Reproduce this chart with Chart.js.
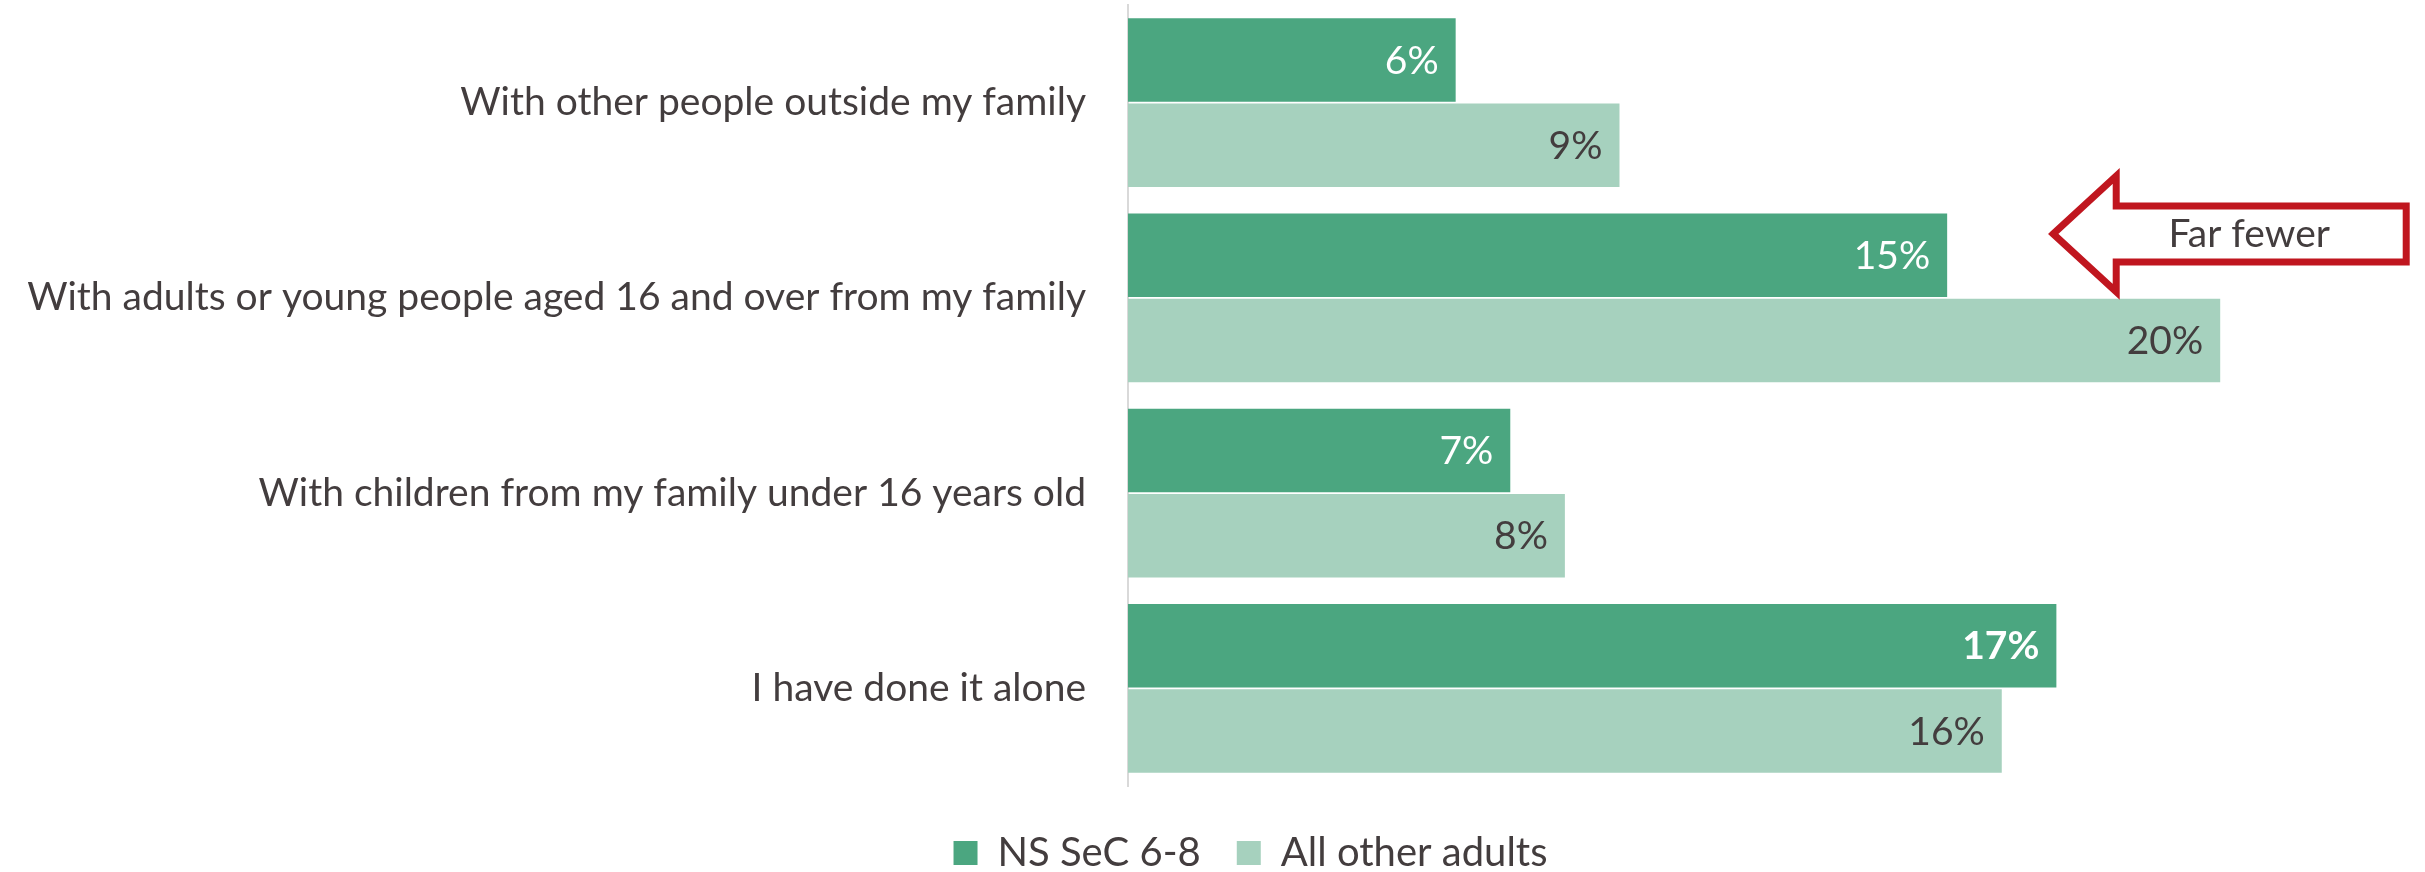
<!DOCTYPE html>
<html>
<head>
<meta charset="utf-8">
<script src="https://cdn.jsdelivr.net/npm/chart.js@4/dist/chart.umd.min.js"></script>
<style>
  html, body { margin: 0; padding: 0; background: #ffffff; }
  #wrap { width: 2425px; height: 872px; }
</style>
</head>
<body>
<div id="wrap"><canvas id="chart" width="2425" height="872"></canvas></div>
<script>
// Who people have done the activity with, by group (%)
const categories = [
  'With other people outside my family',
  'With adults or young people aged 16 and over from my family',
  'With children from my family under 16 years old',
  'I have done it alone'
];
const seriesNames = ['NS SeC 6-8', 'All other adults'];
const nsSecValues = [6, 15, 7, 17];
const otherAdultValues = [9, 20, 8, 16];
// Values shown in bold in the NS SeC series
const nsSecBold = [false, false, false, true];
// Callout pointing at one of the categories
const calloutText = 'Far fewer';
const calloutCategory = 1;

const FONT = 'Lato, "Open Sans", sans-serif';
const TEXT = '#433d3e';
const DARK = '#4ba680';
const LIGHT = '#a6d1be';
const RED = '#c0161f';

// Value labels written inside the end of each bar
const valueLabels = {
  id: 'valueLabels',
  afterDatasetsDraw(chart) {
    const ctx = chart.ctx;
    ctx.save();
    ctx.textAlign = 'right';
    ctx.textBaseline = 'middle';
    chart.data.datasets.forEach((ds, di) => {
      const meta = chart.getDatasetMeta(di);
      meta.data.forEach((bar, i) => {
        const bold = di === 0 && nsSecBold[i];
        ctx.font = (bold ? 'bold ' : '') + '39px ' + FONT;
        ctx.fillStyle = di === 0 ? '#ffffff' : TEXT;
        ctx.fillText(ds.data[i] + '%', bar.x - 17, bar.y + 1);
      });
    });
    ctx.restore();
  }
};

// Outlined arrow callout
const calloutArrow = {
  id: 'calloutArrow',
  afterDraw(chart) {
    const ctx = chart.ctx;
    const xs = chart.scales.x, ys = chart.scales.y;
    const cy = ys.getPixelForValue(calloutCategory) - 64;
    const tipX = xs.getPixelForValue(otherAdultValues[calloutCategory]) - 167;
    const headX = tipX + 63;
    const endX = tipX + 353;
    const headHalf = 58, shaftHalf = 28;
    ctx.save();
    ctx.beginPath();
    ctx.moveTo(tipX, cy);
    ctx.lineTo(headX, cy - headHalf);
    ctx.lineTo(headX, cy - shaftHalf);
    ctx.lineTo(endX, cy - shaftHalf);
    ctx.lineTo(endX, cy + shaftHalf);
    ctx.lineTo(headX, cy + shaftHalf);
    ctx.lineTo(headX, cy + headHalf);
    ctx.closePath();
    ctx.fillStyle = '#ffffff';
    ctx.fill();
    ctx.lineWidth = 7;
    ctx.lineJoin = 'miter';
    ctx.strokeStyle = RED;
    ctx.stroke();
    ctx.font = '39px ' + FONT;
    ctx.fillStyle = TEXT;
    ctx.textAlign = 'center';
    ctx.textBaseline = 'middle';
    ctx.fillText(calloutText, tipX + 196, cy + 1);
    ctx.restore();
  }
};

// Move the legend row a little down and to the right of the canvas centre
const legendOffset = {
  id: 'legendOffset',
  afterLayout(chart) {
    const lg = chart.legend;
    if (lg) {
      lg.top += 11;
      lg.bottom += 11;
      lg.left += 38;
      lg.right += 38;
    }
  }
};

new Chart(document.getElementById('chart'), {
  type: 'bar',
  data: {
    labels: categories,
    datasets: [
      { label: seriesNames[0], data: nsSecValues, backgroundColor: DARK, borderWidth: 0 },
      { label: seriesNames[1], data: otherAdultValues, backgroundColor: LIGHT, borderWidth: 0 }
    ]
  },
  options: {
    indexAxis: 'y',
    responsive: false,
    animation: false,
    events: [],
    categoryPercentage: 0.872,
    barPercentage: 0.98,
    layout: { padding: { left: 0, right: 0, top: 5, bottom: 0 } },
    scales: {
      x: {
        display: false,
        min: 0,
        max: 23.75
      },
      y: {
        grid: { display: false, drawTicks: false },
        border: { display: true, color: '#d9d9d9', width: 2 },
        ticks: {
          color: TEXT,
          font: { family: FONT, size: 39 },
          padding: 42
        },
        afterFit(scale) {
          scale.width = 1128;
          scale.paddingTop = 0;
          scale.paddingBottom = 0;
        }
      }
    },
    plugins: {
      tooltip: { enabled: false },
      legend: {
        position: 'bottom',
        labels: {
          color: TEXT,
          font: { family: FONT, size: 40 },
          boxWidth: 24,
          boxHeight: 24,
          padding: 36
        }
      }
    }
  },
  plugins: [valueLabels, calloutArrow, legendOffset]
});
</script>
</body>
</html>
